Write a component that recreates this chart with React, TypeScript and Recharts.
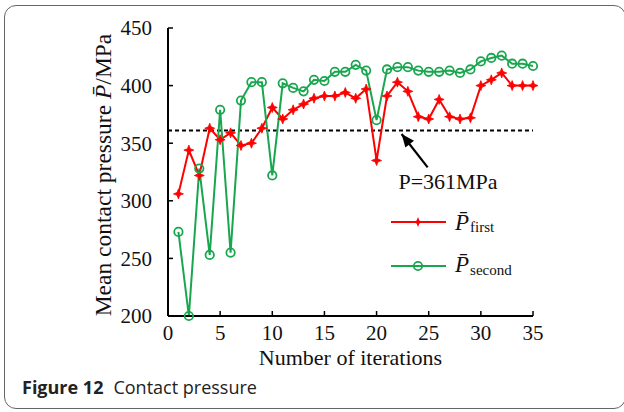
import React from 'react';
import { LineChart, Line, XAxis, YAxis, ReferenceLine, ReferenceDot, Legend } from 'recharts';

const iterations = [1, 2, 3, 4, 5, 6, 7, 8, 9, 10, 11, 12, 13, 14, 15, 16, 17, 18, 19, 20, 21, 22, 23, 24, 25, 26, 27, 28, 29, 30, 31, 32, 33, 34, 35];
const pFirst = [306, 344, 322, 363, 353, 359, 348, 350, 363, 381, 371, 379, 384, 389, 391, 391, 394, 389, 397, 335, 391, 403, 395, 373, 371, 388, 373, 371, 372, 400, 405, 411, 400, 400, 400];
const pSecond = [273, 200, 328, 253, 379, 255, 387, 403, 403, 322, 402, 398, 395, 405, 404, 412, 412, 418, 413, 370, 414, 416, 416, 413, 412, 412, 413, 411, 414, 421, 424, 426, 419, 419, 417];
const xTicks = [0, 5, 10, 15, 20, 25, 30, 35];
const yTicks = [200, 250, 300, 350, 400, 450];
const threshold = 361;
const thresholdLabel = 'P=361MPa';
const arrowTail = { x: 24.9, y: 329 };
const arrowHead = { x: 22.4, y: 358 };
const labelPos = { x: 26.85, y: 310 };

const data = iterations.map((it, i) => ({ it, first: pFirst[i], second: pSecond[i] }));

const SERIF = '"Liberation Serif", "Times New Roman", serif';
const RED = '#ff0000';
const GREEN = '#1aa64f';

const starPath = (cx: number, cy: number) =>
  `M${cx - 5},${cy} L${cx - 1.4},${cy - 1.4} L${cx},${cy - 5} L${cx + 1.4},${cy - 1.4} L${cx + 5},${cy} L${cx + 1.4},${cy + 1.4} L${cx},${cy + 5} L${cx - 1.4},${cy + 1.4} Z`;

const RedDot = (props: any) => {
  const { cx, cy } = props;
  if (cx == null || cy == null) return null;
  return <path d={starPath(cx, cy)} fill={RED} stroke={RED} strokeWidth={0.8} />;
};

const GreenDot = (props: any) => {
  const { cx, cy } = props;
  if (cx == null || cy == null) return null;
  return <circle cx={cx} cy={cy} r={4.2} fill="none" stroke={GREEN} strokeWidth={1.8} />;
};

const ArrowHead = (props: any) => {
  const { cx, cy } = props;
  if (cx == null || cy == null) return null;
  const dx = -0.622, dy = -0.783;
  const L = 13, W = 5.5;
  const bx = cx - dx * L, by = cy - dy * L;
  const px = -dy, py = dx;
  return <polygon points={`${cx},${cy} ${bx + px * W},${by + py * W} ${bx - px * W},${by - py * W}`} fill="#000" />;
};

const AnnotText = (props: any) => {
  const { cx, cy } = props;
  if (cx == null || cy == null) return null;
  return (
    <text x={cx} y={cy} textAnchor="middle" fontFamily={SERIF} fontSize={22} fill="#111">
      {thresholdLabel}
    </text>
  );
};

const LegendContent = () => (
  <svg width={160} height={90} style={{ overflow: 'visible' }}>
    <line x1={6} x2={61} y1={22} y2={22} stroke={RED} strokeWidth={2} />
    <path d={starPath(33, 22)} fill={RED} />
    <text x={70} y={30} fontFamily={SERIF} fill="#111">
      <tspan fontStyle="italic" fontSize={23}>{'P\u0304'}</tspan>
      <tspan fontSize={15} dy={2} dx={1}>first</tspan>
    </text>
    <line x1={6} x2={61} y1={66} y2={66} stroke={GREEN} strokeWidth={2} />
    <circle cx={33} cy={66} r={4.2} fill="none" stroke={GREEN} strokeWidth={1.8} />
    <text x={70} y={72} fontFamily={SERIF} fill="#111">
      <tspan fontStyle="italic" fontSize={23}>{'P\u0304'}</tspan>
      <tspan fontSize={15} dy={3} dx={1}>second</tspan>
    </text>
  </svg>
);

const YTitle = (props: any) => {
  const vb = props.viewBox || { x: 108, y: 28, width: 60, height: 288 };
  const x = vb.x - 5;
  const y = vb.y + vb.height / 2 + 3;
  return (
    <text x={x} y={y} transform={`rotate(-90, ${x}, ${y})`} textAnchor="middle" dominantBaseline="central" fontFamily={SERIF} fontSize={23.5} fill="#111">
      Mean contact pressure <tspan fontStyle="italic">{'P\u0304'}</tspan>/MPa
    </text>
  );
};

const XTitle = (props: any) => {
  const vb = props.viewBox || { x: 168, y: 316, width: 365, height: 30 };
  return (
    <text x={vb.x + vb.width / 2} y={vb.y + 49} textAnchor="middle" fontFamily={SERIF} fontSize={22} fill="#111">
      Number of iterations
    </text>
  );
};

export default function App() {
  return (
    <div style={{ position: 'absolute', left: 0, top: 0, width: 624, height: 412, background: '#fff', overflow: 'hidden' }}>
      <div
        style={{
          position: 'absolute',
          left: 4,
          top: 5,
          width: 622,
          height: 404,
          border: '1.5px solid #666',
          borderRadius: 12,
          boxSizing: 'border-box',
        }}
      />
      <div style={{ position: 'absolute', left: 0, top: 0 }}>
        <LineChart width={624} height={412} data={data} margin={{ top: 28, right: 91, bottom: 66, left: 108 }}>
          <XAxis
            dataKey="it"
            type="number"
            domain={[0, 35]}
            ticks={xTicks}
            interval={0}
            height={30}
            axisLine={{ stroke: '#000', strokeWidth: 2 }}
            tickLine={{ stroke: '#000', strokeWidth: 1.5 }}
            tickSize={-5}
            tickMargin={14}
            tick={{ fill: '#111', fontFamily: SERIF, fontSize: 21 }}
            label={<XTitle />}
          />
          <YAxis
            type="number"
            domain={[200, 450]}
            ticks={yTicks}
            interval={0}
            width={60}
            axisLine={{ stroke: '#000', strokeWidth: 2 }}
            tickLine={{ stroke: '#000', strokeWidth: 1.5 }}
            tickSize={-5}
            tickMargin={21}
            tick={{ fill: '#111', fontFamily: SERIF, fontSize: 21 }}
            label={<YTitle />}
          />
          <ReferenceLine y={threshold} stroke="#000" strokeWidth={2} strokeDasharray="4 3" />
          <ReferenceLine segment={[arrowTail, arrowHead]} stroke="#000" strokeWidth={2.2} />
          <ReferenceDot x={arrowHead.x} y={arrowHead.y} shape={<ArrowHead />} />
          <ReferenceDot x={labelPos.x} y={labelPos.y} shape={<AnnotText />} />
          <Line dataKey="first" stroke={RED} strokeWidth={2} dot={<RedDot />} activeDot={false} isAnimationActive={false} />
          <Line dataKey="second" stroke={GREEN} strokeWidth={2} dot={<GreenDot />} activeDot={false} isAnimationActive={false} />
          <Legend
            layout="vertical"
            align="center"
            verticalAlign="middle"
            content={<LegendContent />}
            wrapperStyle={{ position: 'absolute', left: 385, top: 200, width: 160, height: 90 }}
          />
        </LineChart>
      </div>
      <div
        style={{
          position: 'absolute',
          left: 22,
          top: 375,
          fontFamily: '"Open Sans", "Noto Sans", sans-serif',
          fontSize: 18,
          color: '#222',
          whiteSpace: 'nowrap',
        }}
      >
        <b>Figure 12</b>
        <span style={{ marginLeft: 10 }}>Contact pressure</span>
      </div>
    </div>
  );
}
